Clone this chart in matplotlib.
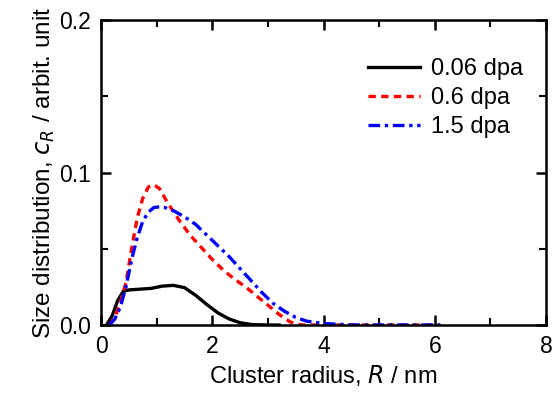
import matplotlib
matplotlib.use("Agg")
import matplotlib.pyplot as plt
from matplotlib.ticker import MultipleLocator, FormatStrFormatter

plt.rcParams['font.family'] = ['Liberation Sans', 'DejaVu Sans']

labels = ["0.06 dpa", "0.6 dpa", "1.5 dpa"]

r_black = [0.1, 0.2, 0.3, 0.4, 0.5, 0.7, 0.9, 1.1, 1.3, 1.5, 1.7, 1.9, 2.1, 2.3, 2.5, 2.7, 3.0, 3.2]
c_black = [0, 0.006, 0.016, 0.022, 0.023, 0.0235, 0.024, 0.0255, 0.026, 0.0245, 0.0195, 0.0135,
           0.008, 0.004, 0.0015, 0.0003, 0, 0]

r_red = [0.15, 0.25, 0.35, 0.45, 0.55, 0.65, 0.75, 0.85, 0.95, 1.05, 1.2, 1.4, 1.6, 1.8, 2.0,
         2.2, 2.4, 2.6, 2.8, 3.0, 3.2, 3.4, 3.6, 4.0, 5.0, 6.1]
c_red = [0, 0.005, 0.015, 0.028, 0.05, 0.07, 0.083, 0.0905, 0.092, 0.0895, 0.080, 0.069, 0.059,
         0.051, 0.043, 0.036, 0.030, 0.025, 0.019, 0.013, 0.007, 0.002, 0, 0, 0, 0]

r_blue = [0.15, 0.25, 0.35, 0.45, 0.55, 0.65, 0.75, 0.85, 0.95, 1.05, 1.15, 1.3, 1.5, 1.7, 1.9,
          2.1, 2.3, 2.5, 2.7, 2.9, 3.1, 3.3, 3.5, 3.7, 4.0, 4.5, 5.0, 6.1]
c_blue = [0, 0.004, 0.012, 0.025, 0.043, 0.057, 0.068, 0.074, 0.077, 0.0775, 0.077, 0.075, 0.071,
          0.066, 0.059, 0.052, 0.045, 0.037, 0.029, 0.021, 0.014, 0.009, 0.005, 0.0025, 0.001,
          0, 0, 0]

fig = plt.figure(figsize=(5.56, 3.96), dpi=100)
ax = fig.add_axes([101/556, 71/396, 445/556, 305/396])

ax.plot(r_black, c_black, color='black', lw=2.4, label=labels[0])
ax.plot(r_red, c_red, color='red', lw=2.4, linestyle=(0, (2.2, 1.6)), label=labels[1])
ax.plot(r_blue, c_blue, color='blue', lw=2.4, linestyle=(0, (3.5, 1.4, 1.0, 1.4)), label=labels[2])

ax.set_xlim(0, 8)
ax.set_ylim(0, 0.2)
ax.xaxis.set_major_locator(MultipleLocator(2))
ax.xaxis.set_minor_locator(MultipleLocator(1))
ax.yaxis.set_major_locator(MultipleLocator(0.1))
ax.yaxis.set_minor_locator(MultipleLocator(0.05))
ax.yaxis.set_major_formatter(FormatStrFormatter('%.1f'))
ax.tick_params(which='both', direction='in', top=True, right=True, labelsize=16.5, pad=7)
ax.tick_params(which='major', length=7, width=1.8)
ax.tick_params(which='minor', length=5, width=1.5)
for s in ax.spines.values():
    s.set_linewidth(1.8)

ax.set_xlabel('Cluster radius, $\\mathit{R}$ / nm', fontsize=17, labelpad=4)
ax.set_ylabel('Size distribution, $\\mathit{c_R}$ / arbit. unit', fontsize=17.5, labelpad=2)

ax.legend(loc='upper right', bbox_to_anchor=(0.985, 0.93), frameon=False, fontsize=17,
          handlelength=2.2, handletextpad=0.45, labelspacing=0.3, borderaxespad=0.3)

fig.savefig('out.png', dpi=100)
